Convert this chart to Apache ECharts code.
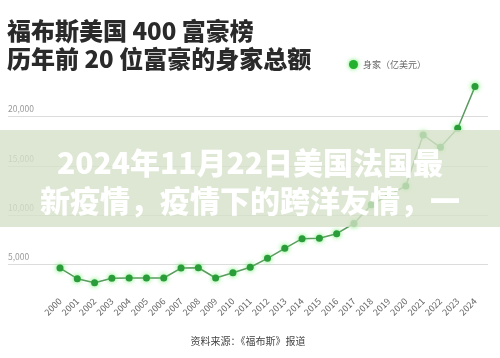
<!DOCTYPE html>
<html>
<head>
<meta charset="utf-8">
<script src="https://cdn.jsdelivr.net/npm/echarts@6/dist/echarts.min.js"></script>
<style>
html,body{margin:0;padding:0;background:#fff;}
#main{width:500px;height:358px;}
</style>
</head>
<body>
<div id="main"></div>
<script>
var years = ['2000','2001','2002','2003','2004','2005','2006','2007','2008','2009','2010','2011','2012','2013','2014','2015','2016','2017','2018','2019','2020','2021','2022','2023','2024'];
var netWorth = [4620,3540,3130,3580,3610,3610,3610,4620,4650,3610,4150,4700,5610,6620,7600,7640,8110,9140,11050,12000,12950,18120,16870,18800,23030];
var seriesName = '身家（亿美元）';
var titleLines = ['福布斯美国 400 富豪榜', '历年前 20 位富豪的身家总额'];
var overlayLines = ['2024年11月22日美国法国最', '新疫情，疫情下的跨洋友情，一'];
var sourceText = '资料来源：《福布斯》报道';

var FONT = '"Noto Sans CJK SC", "Noto Sans", sans-serif';
var chart = echarts.init(document.getElementById('main'), null, {renderer: 'canvas'});
var option = {
  backgroundColor: '#ffffff',
  animation: false,
  textStyle: {fontFamily: FONT},
  title: {
    text: titleLines.join('\n'),
    left: 7, top: 17, padding: 0,
    textStyle: {fontSize: 24, fontWeight: 900, color: '#2a2a2a', lineHeight: 28, fontFamily: FONT}
  },
  legend: {
    left: 349, top: 60, padding: 0,
    icon: 'circle', itemWidth: 9, itemHeight: 9, itemGap: 5,
    textStyle: {fontSize: 9, color: '#666', fontFamily: FONT},
    data: [{name: seriesName, itemStyle: {color: '#22b02e', shadowBlur: 4, shadowColor: 'rgba(60,230,60,0.8)'}}]
  },
  grid: [
    {left: 8, right: 12, top: 67.2, bottom: 44.4},
    {left: 60, right: 25, top: 67.2, bottom: 44.4}
  ],
  xAxis: [
    {gridIndex: 0, type: 'category', data: years, show: false},
    {gridIndex: 1, type: 'category', data: years, boundaryGap: false,
     axisLine: {show: false}, axisTick: {show: false},
     axisLabel: {rotate: 45, margin: -14, fontSize: 9, color: '#666', interval: 0, fontFamily: FONT}}
  ],
  yAxis: [
    {gridIndex: 0, type: 'value', min: 0, max: 25000, interval: 5000,
     axisLine: {show: false}, axisTick: {show: false},
     splitLine: {show: true, showMinLine: false, showMaxLine: false, lineStyle: {color: '#dcdcdc', width: 1}},
     axisLabel: {inside: true, margin: 0, verticalAlign: 'bottom', padding: [0,0,3,0], fontSize: 8.5, color: '#999',
       showMinLabel: false, showMaxLabel: false, fontFamily: FONT}},
    {gridIndex: 1, type: 'value', min: 0, max: 25000, interval: 5000, show: false, splitLine: {show: false}}
  ],
  series: [{
    name: seriesName, type: 'line', xAxisIndex: 1, yAxisIndex: 1,
    data: netWorth,
    symbol: 'circle', symbolSize: 7,
    lineStyle: {color: '#5b9a60', width: 1.5},
    itemStyle: {color: '#2a9c3a', shadowBlur: 5, shadowColor: 'rgba(70,230,70,0.9)'},
    z: 3
  }],
  graphic: [
    {type: 'rect', z: 100, shape: {x: 0, y: 130, width: 500, height: 97},
     style: {fill: 'rgba(214,225,200,0.8)'}},
    {type: 'text', z: 101, x: 250, y: 163,
     style: {text: overlayLines[0], fill: '#ffffff', font: '900 30px ' + FONT, textAlign: 'center', textVerticalAlign: 'middle',
       shadowBlur: 2, shadowColor: 'rgba(0,0,0,0.06)'}},
    {type: 'text', z: 101, x: 250, y: 201,
     style: {text: overlayLines[1], fill: '#ffffff', font: '900 30px ' + FONT, textAlign: 'center', textVerticalAlign: 'middle',
       shadowBlur: 2, shadowColor: 'rgba(0,0,0,0.06)'}},
    {type: 'text', z: 50, x: 248, y: 341,
     style: {text: sourceText, fill: '#444', font: '10px ' + FONT, textAlign: 'center', textVerticalAlign: 'middle'}}
  ]
};
chart.setOption(option);
</script>
</body>
</html>
